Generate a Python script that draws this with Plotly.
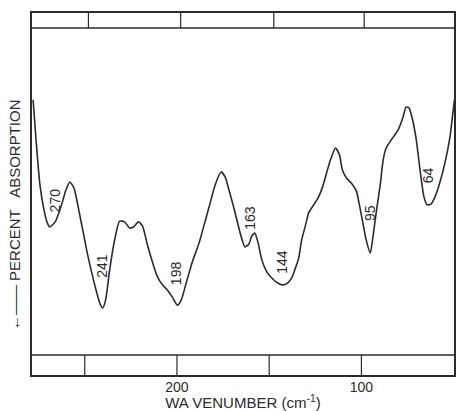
import plotly.graph_objects as go

# Spectrum trace (wavenumber in cm^-1, relative absorption; larger = more absorption, plotted downward)
wavenumber = [278.0, 276.4, 274.3, 272.1, 270.5, 269.0, 266.0, 262.6, 260.2, 258.1, 255.9, 252.7,
              248.4, 244.6, 241.9, 240.3, 238.7, 236.5, 233.8, 231.1, 228.4, 225.7, 223.6, 220.9,
              218.7, 216.0, 213.3, 210.6, 207.9, 205.2, 202.5, 199.8, 197.7, 195.0, 191.7, 188.0,
              185.3, 182.6, 179.3, 176.1, 173.9, 171.8, 169.6, 167.5, 165.3, 163.2, 161.0, 159.4,
              157.8, 156.1, 154.0, 151.3, 148.6, 145.4, 142.7, 140.0, 137.8, 135.6, 134.0, 132.4,
              130.3, 128.6, 125.9, 123.2, 121.1, 118.9, 116.8, 114.1, 111.9, 110.3, 108.1, 105.4,
              102.7, 101.1, 99.5, 97.4, 95.2, 93.6, 92.0, 89.8, 88.2, 86.6, 83.9, 80.1, 77.4, 75.8,
              74.2, 72.5, 70.4, 68.2, 66.1, 64.4, 62.3, 60.1, 57.4, 54.7, 52.0, 50.4, 49.6]
absorption = [24.0, 35.1, 47.5, 54.4, 57.7, 59.1, 57.7, 53.0, 48.9, 46.7, 48.3, 55.8,
              66.9, 75.1, 80.1, 81.5, 79.3, 71.0, 62.7, 57.5, 57.7, 59.4, 59.1, 57.7,
              58.8, 64.1, 68.8, 72.9, 75.1, 76.5, 78.5, 80.7, 79.3, 74.6, 68.8, 63.5,
              58.6, 53.6, 47.5, 43.9, 45.3, 48.9, 53.0, 57.2, 61.6, 64.6, 63.8, 61.6,
              60.8, 63.3, 68.2, 71.5, 73.2, 74.6, 75.1, 74.6, 73.2, 70.2, 67.7, 62.7,
              58.6, 55.2, 53.0, 50.8, 48.1, 44.2, 40.6, 37.3, 39.2, 43.4, 45.6, 47.0,
              49.2, 53.0, 57.2, 62.7, 66.3, 61.3, 55.2, 47.5, 40.6, 37.3, 35.1, 32.3, 28.7, 26.0,
              26.2, 29.0, 34.5, 43.4, 50.8, 53.0, 52.8, 50.8, 46.7, 41.4, 34.3, 27.6, 24.0]

# Band labels
band_labels = ["270", "241", "198", "163", "144", "95", "64"]
band_label_x = [266.0, 240.8, 200.4, 160.5, 143.2, 95.2, 63.9]
band_label_y = [51.7, 69.9, 71.8, 56.6, 68.8, 55.2, 44.8]

# Axis ticks
tick_vals = [200, 100]
tick_text = ["200", "100"]
strip_ticks_bottom = [250, 200, 150, 100]
strip_ticks_top = [248, 198, 147.5, 98.5]

X_RANGE = [278.6, 49.8]
LINE = "#2b2b2b"
FONT = "Liberation Sans, Arial, sans-serif"

fig = go.Figure()
fig.add_trace(go.Scatter(
    x=wavenumber, y=absorption, mode="lines",
    line=dict(color=LINE, width=1.6, shape="spline", smoothing=0.6),
    hoverinfo="skip", showlegend=False,
))

for t, x, y in zip(band_labels, band_label_x, band_label_y):
    fig.add_annotation(x=x, y=y, text=t, showarrow=False, textangle=-90,
                       font=dict(family=FONT, size=14, color=LINE))

# top and bottom tick strips
bot_strip = 20 / 362
top_strip = 1 - 15 / 362
fig.add_shape(type="line", xref="paper", yref="paper", x0=0, x1=1, y0=bot_strip, y1=bot_strip,
              line=dict(color=LINE, width=1.3))
fig.add_shape(type="line", xref="paper", yref="paper", x0=0, x1=1, y0=top_strip, y1=top_strip,
              line=dict(color=LINE, width=1.3))
for v in strip_ticks_bottom:
    fig.add_shape(type="line", xref="x", yref="paper", x0=v, x1=v, y0=0, y1=bot_strip,
                  line=dict(color=LINE, width=1.2))
for v in strip_ticks_top:
    fig.add_shape(type="line", xref="x", yref="paper", x0=v, x1=v, y0=top_strip, y1=1,
                  line=dict(color=LINE, width=1.2))

# y-axis label with arrow
fig.add_annotation(xref="paper", yref="paper", x=-0.04, y=0.442, xanchor="center", yanchor="middle",
                   text="\u2190\u2014\u2014 PERCENT   ABSORPTION", textangle=-90, showarrow=False,
                   font=dict(family=FONT, size=15, color=LINE))

fig.update_layout(
    width=458, height=411,
    margin=dict(l=32, r=2, t=13, b=36),
    paper_bgcolor="white", plot_bgcolor="white",
    xaxis=dict(range=X_RANGE, tickvals=tick_vals, ticktext=tick_text, ticks="",
               showgrid=False, zeroline=False, showline=True, mirror=True,
               linecolor=LINE, linewidth=1.5, ticklabelstandoff=-2,
               tickfont=dict(family=FONT, size=14, color=LINE),
               title=dict(text="WA VENUMBER (cm<sup>-1</sup>)", standoff=3,
                          font=dict(family=FONT, size=15, color=LINE))),
    yaxis=dict(range=[100, 0], showticklabels=False, ticks="", showgrid=False, zeroline=False,
               showline=True, mirror=True, linecolor=LINE, linewidth=1.5),
)

fig.write_html("out.html", config={"displayModeBar": False},
               post_script="document.body.style.margin='0';document.body.style.overflow='hidden';")
